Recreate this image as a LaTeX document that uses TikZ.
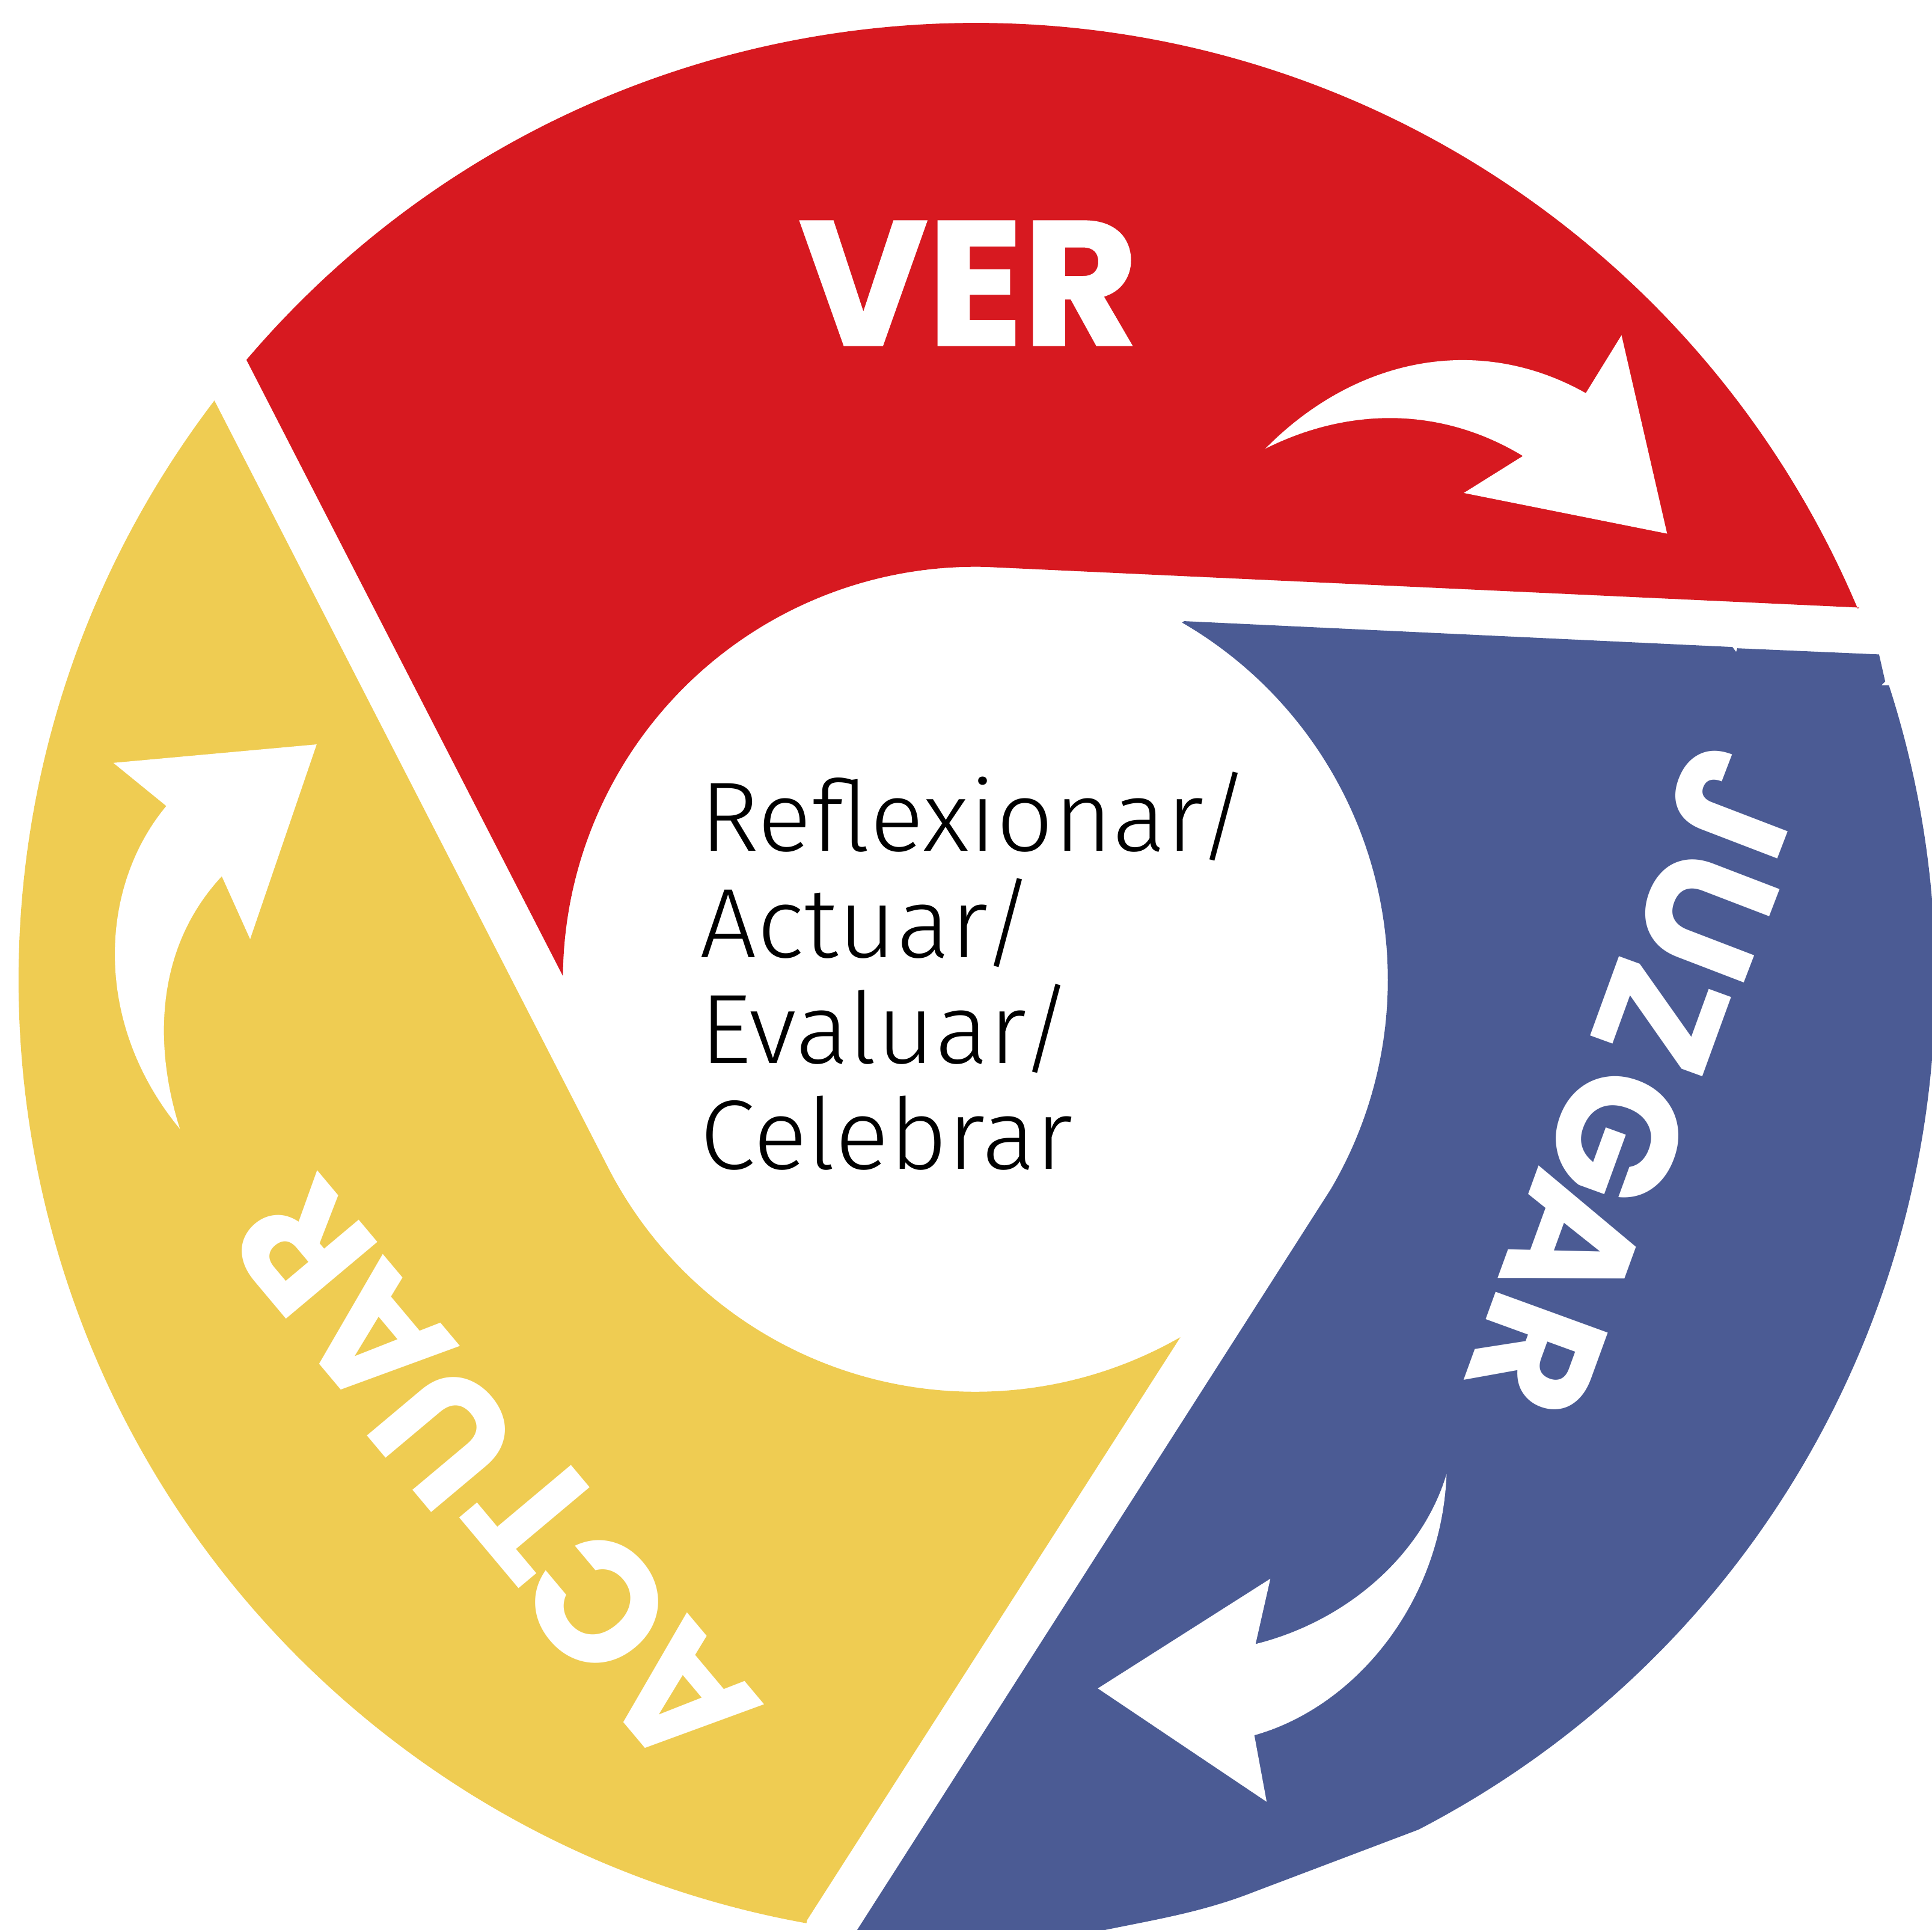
\documentclass[tikz,border=0pt]{standalone}
\usepackage{fontspec}
\setmainfont{Lato}
\newfontfamily\heavyf{Poppins}[UprightFont=* Bold,FakeBold=1.2]
\newfontfamily\boldf{Poppins}[UprightFont=* Bold]
\newfontfamily\lightf{Fira Sans Light}[FakeStretch=1.02]
\definecolor{verred}{HTML}{D71920}
\definecolor{juzblue}{HTML}{4B5B94}
\definecolor{actyellow}{HTML}{EFCC52}
\tikzset{
  sector/.style={draw=none},
  flecha/.style={fill=white,draw=none},
  letra/.style={text=white,inner sep=0pt,text height=97pt,text depth=0pt,anchor=center,
    font=\boldf\fontsize{138}{138}\selectfont},
}
\begin{document}
\begin{tikzpicture}[x=1pt,y=-1pt]
\useasboundingbox (0,0) rectangle (1568,1566);
\clip (0,0) rectangle (1568,1566);
\coordinate (c) at (792,795);
% red
\fill[verred,sector] (200,292) arc[start angle=-139.6,end angle=-22.85,radius=777]
  -- (1509,493) -- (800,460) arc[start angle=-88.6,end angle=-179.5,radius=335] -- cycle;
% blue
\fill[juzblue,sector] (961,504) -- (1406,525) -- (1409,529) -- (1410,526) -- (1525,531)
  -- (1530,553) -- (1527,556) -- (1533,556)
  arc[start angle=-17.9,end angle=62.6,radius=777]
  -- (1018,1535) .. controls (975,1552) and (935,1558) .. (892,1567) -- (695,1567) -- (1080,965)
  arc[start angle=30.5,end angle=-59.9,radius=335] -- cycle;
% yellow
\fill[actyellow,sector] (174,325) arc[start angle=217.3,end angle=100.2,radius=777]
  -- (655,1558) -- (958,1085) arc[start angle=60.2,end angle=153,radius=335] -- cycle;
% arrows
\fill[flecha] (1027,364) .. controls (1100,290) and (1200,270) .. (1287,319)
  -- (1316,272) -- (1353,433) -- (1188,400) -- (1236,370)
  .. controls (1170,330) and (1095,330) .. (1027,364) -- cycle;
\fill[flecha] (1174,1196) .. controls (1170,1300) and (1100,1385) .. (1018,1408)
  -- (1028,1462) -- (891,1370) -- (1031,1281) -- (1019,1334)
  .. controls (1095,1315) and (1155,1260) .. (1174,1196) -- cycle;
\fill[flecha] (146,916) .. controls (75,830) and (80,720) .. (135,654)
  -- (92,619) -- (257,604) -- (203,762) -- (180,711)
  .. controls (125,770) and (125,850) .. (146,916) -- cycle;
% labels
\node[letra,font=\heavyf\fontsize{143}{143}\selectfont,text height=100pt] (ver) at (786,230) {VER};
\node[letra,rotate=-111] (j1) at (1408,652) {J};
\node[letra,rotate=-111] (j2) at (1385,742) {U};
\node[letra,rotate=-110] (j3) at (1348,825) {Z};
\node[letra,rotate=-110] (j4) at (1313,922) {G};
\node[letra,rotate=-110] (j5) at (1278,1008) {A};
\node[letra,rotate=-110] (j6) at (1247,1099) {R};
\node[letra,rotate=130] (a1) at (552,1377) {A};
\node[letra,rotate=130] (a2) at (485,1300) {C};
\node[letra,rotate=130] (a3) at (434,1229) {T};
\node[letra,rotate=130] (a4) at (361,1165) {U};
\node[letra,rotate=130] (a5) at (305,1086) {A};
\node[letra,rotate=130] (a6) at (246,1011) {R};
\node[inner sep=0pt,anchor=west,align=left,text=black,
  font=\lightf\fontsize{80}{86}\selectfont] (centro) at (568,788)
  {Reflexionar/\\Actuar/\\Evaluar/\\Celebrar};
\end{tikzpicture}
\end{document}
